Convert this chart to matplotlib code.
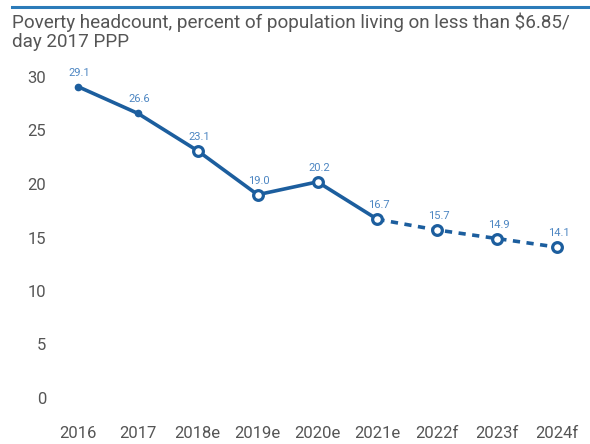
import matplotlib
matplotlib.use("Agg")
import matplotlib.pyplot as plt
from matplotlib.lines import Line2D

categories = ["2016", "2017", "2018e", "2019e", "2020e", "2021e", "2022f", "2023f", "2024f"]
values = [29.1, 26.6, 23.1, 19.0, 20.2, 16.7, 15.7, 14.9, 14.1]
labels = ["29.1", "26.6", "23.1", "19.0", "20.2", "16.7", "15.7", "14.9", "14.1"]
yticks = [0, 5, 10, 15, 20, 25, 30]
title = "Poverty headcount, percent of population living on less than $6.85/\nday 2017 PPP"

fam = ["Roboto", "DejaVu Sans"]
plt.rcParams['font.family'] = fam

line_c = "#1c5e9e"
lab_c = "#4d86c2"
txt_c = "#555555"

fig = plt.figure(figsize=(5.9, 4.44), dpi=100)
ax = fig.add_axes([60/590, 46/444, 515/590, 321/444])

x = list(range(len(categories)))
solid_end = 5
ax.plot(x[:solid_end+1], values[:solid_end+1], color=line_c, lw=2.6, solid_capstyle='round', zorder=2, clip_on=False)
ax.plot(x[solid_end:], values[solid_end:], color=line_c, lw=2.6, ls=(0, (2.0, 1.8)), zorder=2, clip_on=False)
ax.plot(x[:2], values[:2], 'o', ms=4.5, color=line_c, zorder=3, clip_on=False)
ax.plot(x[2:], values[2:], 'o', ms=7, mfc='white', mec=line_c, mew=2.3, zorder=3, clip_on=False)

for xi, v, l in zip(x, values, labels):
    ax.annotate(l, (xi, v), xytext=(1, 6.5), textcoords='offset points', ha='center', va='bottom',
                fontsize=8, color=lab_c)

ax.set_xlim(-0.30, 8.30)
ax.set_ylim(0, 30)
ax.set_yticks(yticks)
ax.set_yticklabels([str(t) for t in yticks])
ax.set_xticks(x)
ax.set_xticklabels(categories)
ax.tick_params(axis='both', length=0, labelsize=12, labelcolor=txt_c)
ax.tick_params(axis='y', pad=10)
ax.tick_params(axis='x', pad=20)
for s in ax.spines.values():
    s.set_visible(False)

fig.add_artist(Line2D([12/590, 1.0], [1 - 7/444, 1 - 7/444], color="#2b7bb9", lw=2.2))
fig.text(12/590, 1 - 12/444, title, ha='left', va='top', fontsize=13.6, color=txt_c, linespacing=1.12)

fig.savefig("out.png", dpi=100)
